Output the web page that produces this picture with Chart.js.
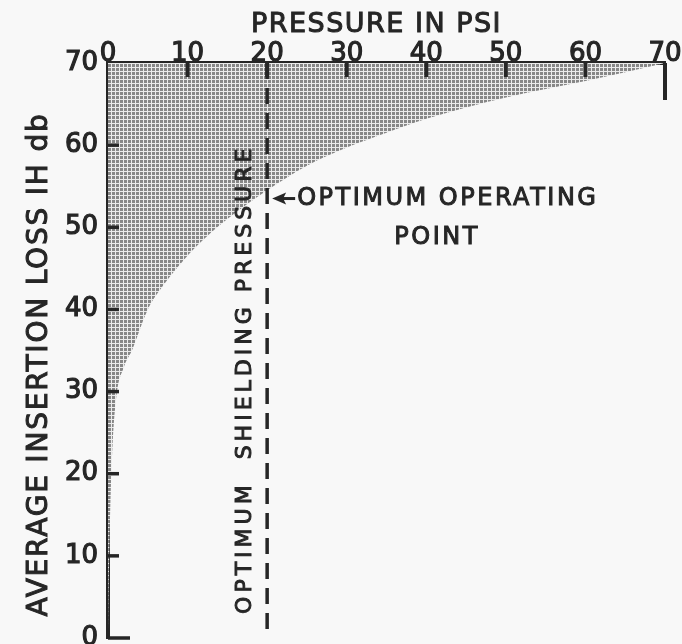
<!DOCTYPE html>
<html>
<head>
<meta charset="utf-8">
<title>Average insertion loss vs pressure</title>
<script src="https://cdn.jsdelivr.net/npm/chart.js@4"></script>
<style>
  html, body { margin: 0; padding: 0; background: #f8f8f8; }
  canvas { display: block; }
</style>
</head>
<body>
<canvas id="lossChart" width="682" height="644"></canvas>
<script>
  // curve: average insertion loss (db) against shielding pressure (psi)
  const pressure = [0, 0.2, 0.5, 1, 2, 3, 5, 7, 9.5, 12, 15, 20, 25, 30, 35, 40, 50, 60, 70];
  const insertionLoss = [0, 12, 22, 29, 33, 35, 40, 43, 46, 48.5, 51, 54.5, 57.5, 59.7, 61.5, 63.2, 65.8, 67.8, 70];

  const pressureTicks = [0, 10, 20, 30, 40, 50, 60, 70];
  const lossTicks = [0, 10, 20, 30, 40, 50, 60, 70];

  // optimum operating point
  const optimumPressure = 20;
  const optimumLoss = 53.5;

  const INK = '#262626';
  const FONT = '"DejaVu Sans", "Liberation Sans", sans-serif';

  const canvas = document.getElementById('lossChart');
  const ctx = canvas.getContext('2d');

  // halftone dot screen for the shaded area
  const tile = document.createElement('canvas');
  tile.width = 4;
  tile.height = 4;
  const tc = tile.getContext('2d');
  tc.fillStyle = '#ebebeb';
  tc.fillRect(0, 0, 4, 4);
  tc.fillStyle = '#878787';
  tc.fillRect(0, 0, 3, 3);
  const dots = ctx.createPattern(tile, 'repeat');

  const paper = {
    id: 'paper',
    beforeDraw(chart) {
      const c = chart.ctx;
      c.save();
      c.fillStyle = '#f8f8f8';
      c.fillRect(0, 0, chart.width, chart.height);
      c.restore();
    }
  };

  // lettering with a slightly heavier pen
  function letter(c, text, x, y) {
    c.fillText(text, x, y);
    c.strokeText(text, x, y);
  }

  // inward tick marks, dashed pressure line, titles and annotations
  const marks = {
    id: 'marks',
    afterDatasetsDraw(chart) {
      const c = chart.ctx;
      const a = chart.chartArea;
      const x = chart.scales.x;
      const y = chart.scales.y;
      c.save();
      c.strokeStyle = INK;
      c.fillStyle = INK;

      c.lineWidth = 4;
      pressureTicks.forEach(v => {
        if (v === x.min) return;
        const px = x.getPixelForValue(v);
        c.beginPath();
        c.moveTo(px, a.top);
        c.lineTo(px, a.top + (v === x.max ? 37 : 14));
        c.stroke();
      });

      c.lineWidth = 3.5;
      lossTicks.forEach(v => {
        if (v === y.max) return;
        const py = y.getPixelForValue(v);
        c.beginPath();
        c.moveTo(a.left, py);
        c.lineTo(a.left + (v === y.min ? 22 : 11), py);
        c.stroke();
      });

      // optimum shielding pressure
      const lx = x.getPixelForValue(optimumPressure);
      c.lineWidth = 3.5;
      c.setLineDash([16, 9]);
      c.beginPath();
      c.moveTo(lx, a.top);
      c.lineTo(lx, y.getPixelForValue(0.8));
      c.stroke();
      c.setLineDash([]);

      c.lineWidth = 1;
      c.font = '22px ' + FONT;
      c.letterSpacing = '4px';
      c.textAlign = 'center';
      c.textBaseline = 'middle';
      c.save();
      c.translate(lx - 22, y.getPixelForValue(31.5));
      c.rotate(-Math.PI / 2);
      letter(c, 'OPTIMUM  SHIELDING PRESSURE', 0, 0);
      c.restore();

      // arrow to the operating point
      const oy = y.getPixelForValue(optimumLoss);
      c.beginPath();
      c.moveTo(lx + 5, oy);
      c.lineTo(lx + 19, oy - 6);
      c.lineTo(lx + 16, oy);
      c.lineTo(lx + 19, oy + 6);
      c.closePath();
      c.fill();
      c.lineWidth = 3;
      c.beginPath();
      c.moveTo(lx + 12, oy);
      c.lineTo(lx + 28, oy);
      c.stroke();

      c.lineWidth = 1;
      c.font = '24px ' + FONT;
      c.letterSpacing = '2.5px';
      c.textAlign = 'left';
      letter(c, 'OPTIMUM OPERATING', lx + 30, oy);
      c.textAlign = 'center';
      letter(c, 'POINT', lx + 170, oy + 39);

      // axis titles
      c.font = '27px ' + FONT;
      c.letterSpacing = '1.5px';
      letter(c, 'PRESSURE IN PSI', (a.left + a.right) / 2 - 10, 25);

      c.font = '28px ' + FONT;
      c.letterSpacing = '1.8px';
      c.save();
      c.translate(40, (a.top + a.bottom) / 2 + 14);
      c.rotate(-Math.PI / 2);
      letter(c, 'AVERAGE INSERTION LOSS IH db', 0, 0);
      c.restore();

      c.restore();
    }
  };

  const points = pressure.map((p, i) => ({ x: p, y: insertionLoss[i] }));

  const tickFont = { family: FONT, size: 26 };

  new Chart(canvas, {
    type: 'line',
    data: {
      datasets: [{
        data: points,
        borderWidth: 0,
        pointRadius: 0,
        cubicInterpolationMode: 'monotone',
        fill: 'end',
        backgroundColor: dots
      }]
    },
    plugins: [paper, marks],
    options: {
      responsive: false,
      animation: false,
      layout: { padding: { left: 0, top: 0, right: 17, bottom: 6 } },
      plugins: {
        legend: { display: false },
        tooltip: { enabled: false }
      },
      scales: {
        x: {
          type: 'linear',
          position: 'top',
          min: 0,
          max: 70,
          afterBuildTicks: s => { s.ticks = pressureTicks.map(v => ({ value: v })); },
          afterFit: s => {
            s.height = 63;
            s.paddingLeft = 0;
            s.paddingRight = 0;
          },
          ticks: {
            color: INK,
            padding: -7,
            maxRotation: 0,
            textStrokeColor: INK,
            textStrokeWidth: 1.2,
            font: tickFont
          },
          grid: { drawOnChartArea: false, drawTicks: false },
          border: { display: true, color: INK, width: 4 }
        },
        y: {
          type: 'linear',
          min: 0,
          max: 70,
          afterBuildTicks: s => { s.ticks = lossTicks.map(v => ({ value: v })); },
          afterFit: s => {
            s.width = 108;
            s.paddingTop = 0;
            s.paddingBottom = 0;
          },
          ticks: {
            color: INK,
            padding: 10,
            textStrokeColor: INK,
            textStrokeWidth: 1.2,
            font: tickFont
          },
          grid: { drawOnChartArea: false, drawTicks: false },
          border: { display: true, color: INK, width: 4 }
        }
      }
    }
  });
</script>
</body>
</html>
